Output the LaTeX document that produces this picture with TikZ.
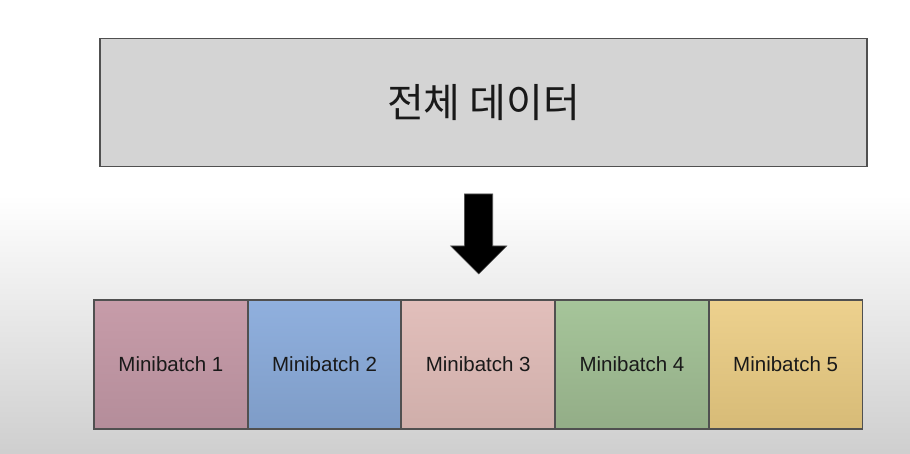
\documentclass[tikz,border=0pt]{standalone}
\usepackage{fontspec}
\setmainfont{Liberation Sans}
\newfontfamily\krfont{Noto Sans CJK KR}
\usepackage{tikz}

\definecolor{edge}{HTML}{505050}
\definecolor{datafill}{HTML}{D4D4D4}
\definecolor{mbtopA}{HTML}{C79CA9}\definecolor{mbbotA}{HTML}{B48D9A}
\definecolor{mbtopB}{HTML}{90B0DE}\definecolor{mbbotB}{HTML}{7E9CC7}
\definecolor{mbtopC}{HTML}{E2BFBB}\definecolor{mbbotC}{HTML}{CFAEAA}
\definecolor{mbtopD}{HTML}{A6C59A}\definecolor{mbbotD}{HTML}{93AD87}
\definecolor{mbtopE}{HTML}{EDD18E}\definecolor{mbbotE}{HTML}{D7BB77}

\begin{document}
\begin{tikzpicture}[x=1pt,y=-1pt,
  databox/.style={draw=edge, line width=1.6pt, fill=datafill, inner sep=0pt,
    minimum width=767pt, minimum height=128pt, text=black!90,
    font=\krfont\fontsize{40}{44}\selectfont},
  mbbox/.style={inner sep=0pt, minimum width=153.7pt, minimum height=129pt,
    text=black!90, font=\fontsize{20.5}{24}\selectfont},
  mbedge/.style={draw=edge, line width=1.5pt}]
\useasboundingbox (0,0) rectangle (910,454);
\fill[white] (0,0) rectangle (910,196);
\shade[top color=white, bottom color=black!19] (0,195) rectangle (910,454);

\node[databox] (data) at (483.5,102.5) {전체 데이터};

\filldraw[black, draw=edge, line width=0.6pt] (464.3,194) -- (492.7,194) -- (492.7,246) -- (506.7,246)
  -- (478.7,274) -- (450.7,246) -- (464.3,246) -- cycle;

\foreach \i/\c in {1/A,2/B,3/C,4/D,5/E}
  \node[mbbox, top color=mbtop\c, bottom color=mbbot\c] (mb\i) at (94+153.7*\i-76.85,364.5) {Minibatch \i};
\foreach \i in {1,...,5}
  \draw[mbedge] (mb\i.north west) rectangle (mb\i.south east);
\end{tikzpicture}
\end{document}
